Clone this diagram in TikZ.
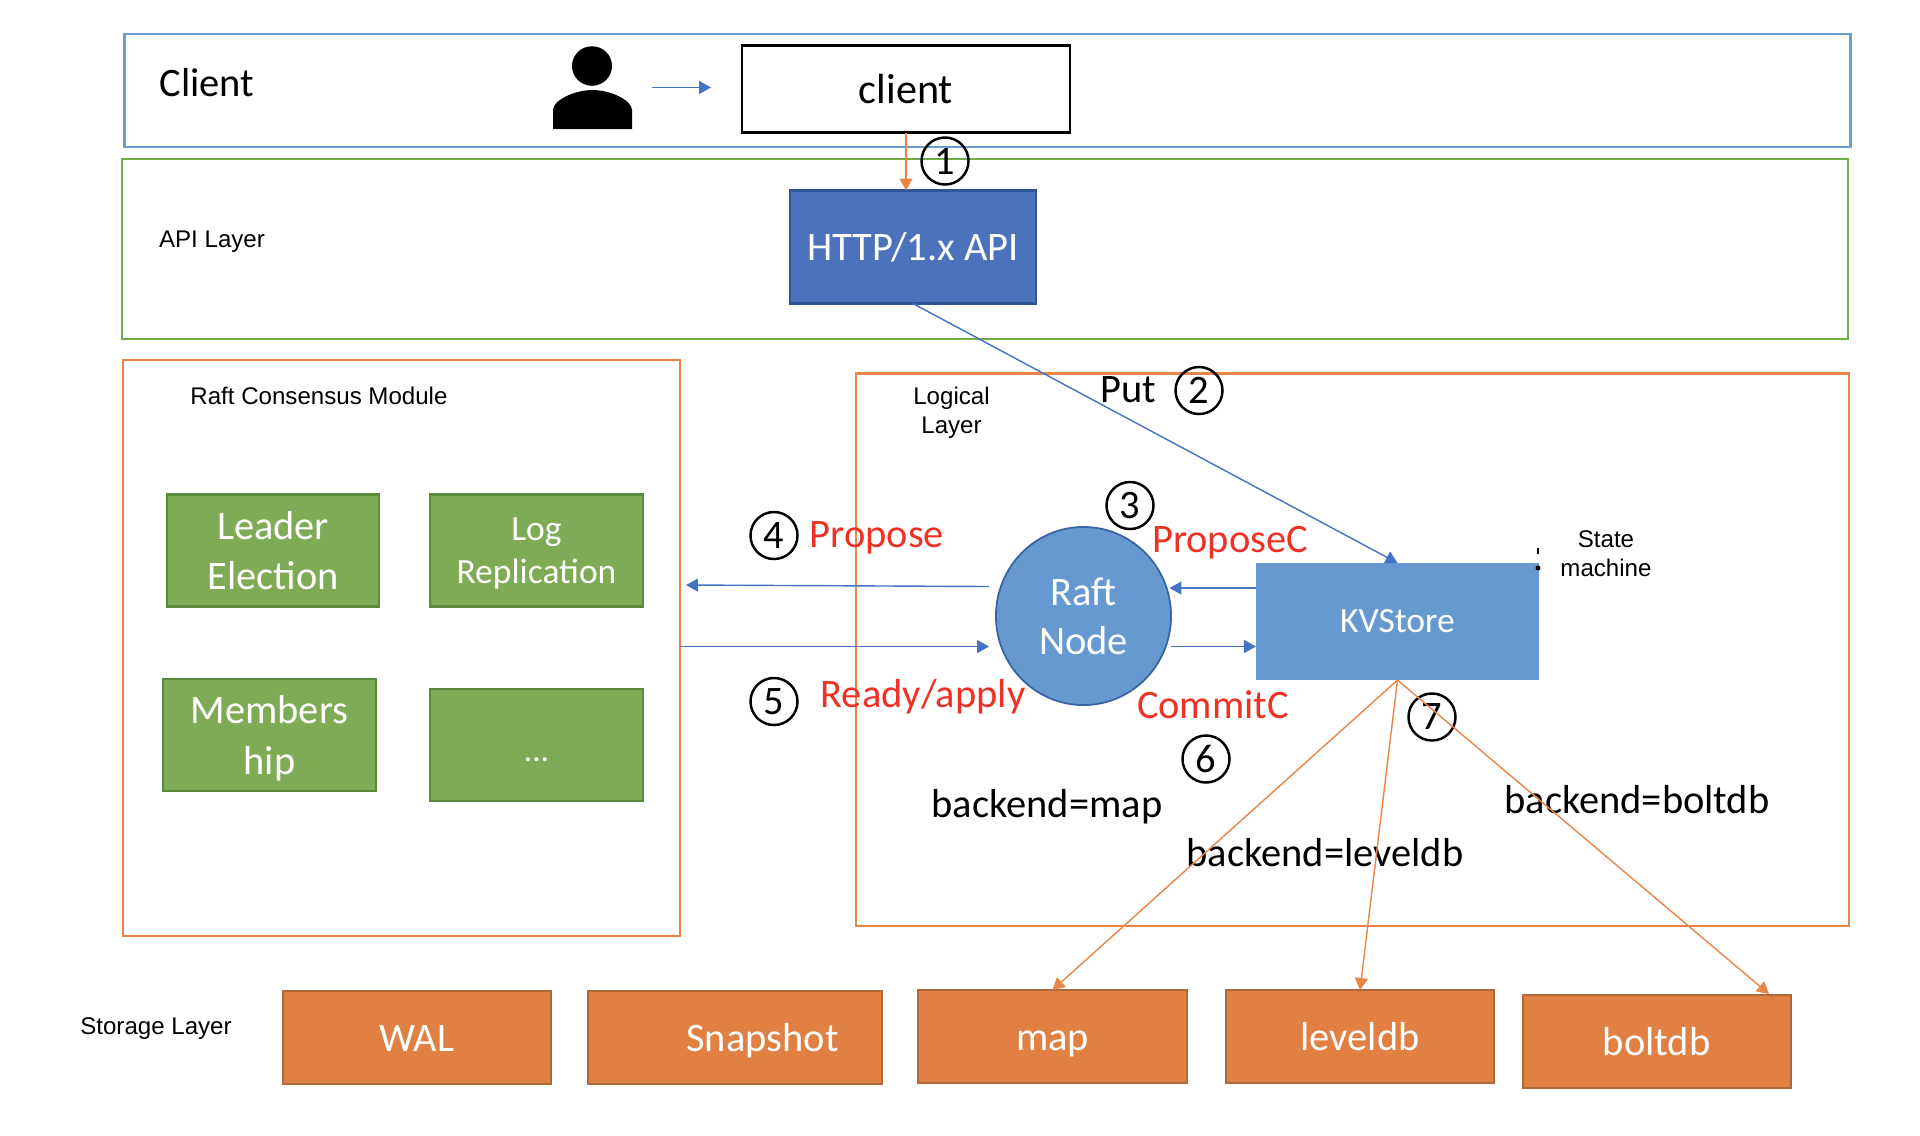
\documentclass[tikz,border=0pt]{standalone}
\usepackage{fontspec}
\setmainfont{Carlito}
\newfontfamily\labelfont{Liberation Sans}
\usetikzlibrary{arrows.meta, shapes.geometric}
\definecolor{layerblue}{HTML}{6C9BD2}
\definecolor{layergreen}{HTML}{70AD47}
\definecolor{layerorange}{HTML}{E98545}
\definecolor{greenfill}{HTML}{7EAB55}
\definecolor{greenline}{HTML}{5A8A3C}
\definecolor{orangefill}{HTML}{E08143}
\definecolor{orangeline}{HTML}{B0673A}
\definecolor{apifill}{HTML}{4C72BC}
\definecolor{apiline}{HTML}{2F5597}
\definecolor{storefill}{HTML}{6699D0}
\definecolor{arrowblue}{HTML}{4472C4}
\definecolor{redtext}{HTML}{EE3124}

\begin{document}
\begin{tikzpicture}[x=0.01cm,y=-0.01cm,
  bigtext/.style={font=\fontsize{11.5}{14.4}\selectfont},
  small/.style={font=\labelfont\fontsize{6.85}{8.3}\selectfont, align=center},
  redword/.style={bigtext, text=redtext},
  layer/.style={draw, line width=.6pt, inner sep=0pt, outer sep=0pt},
  module/.style={draw=greenline, fill=greenfill, line width=.6pt, text=white, bigtext, align=center, inner sep=0pt, outer sep=0pt, minimum width=2.12cm, minimum height=1.12cm},
  storage/.style={draw=orangeline, fill=orangefill, line width=.6pt, text=white, bigtext, inner sep=0pt, outer sep=0pt, minimum height=.93cm, text height=1em, text depth=.2em},
  step num/.style={circle, draw, line width=.7pt, inner sep=0pt, outer sep=0pt, minimum size=.47cm, bigtext},
  flow/.style={-{Triangle[length=3.4pt,width=3.7pt]}, arrowblue, line width=.4pt},
  backend/.style={-{Triangle[length=3.4pt,width=3.7pt]}, layerorange, line width=.4pt}]
  \useasboundingbox (0,0) rectangle (1920,1135);

  % layers
  \node[layer, draw=layerblue, minimum width=17.25cm, minimum height=1.13cm] (clientlayer) at (987.5,90.5) {};
  \node[layer, draw=layergreen, minimum width=17.25cm, minimum height=1.8cm] (apilayer) at (985,249) {};
  \node[layer, draw=layerorange, minimum width=5.57cm, minimum height=5.75cm] (raftlayer) at (401.5,648) {};
  \node[layer, draw=layerorange, minimum width=9.92cm, minimum height=5.52cm, anchor=north west] (logiclayer) at (856,373.5) {};

  % client
  \node[ellipse, fill=black, inner sep=0pt, minimum width=.4cm, minimum height=.395cm] (head) at (592,66) {};
  \fill (553,129) -- (553,110) .. controls (553,100) and (575,90) .. (592.5,90) .. controls (610,90) and (632,100) .. (632,110) -- (632,129) -- cycle;
  \node[draw=black, line width=.6pt, inner sep=0pt, outer sep=0pt, minimum width=3.27cm, minimum height=.87cm, font=\fontsize{12}{15}\selectfont] (client) at (906,89) {client};
  \coordinate (userout) at (652,87.5);
  \coordinate (userin) at (711,87.5);
  \draw[flow] (userout) -- (userin);
  \node[bigtext] (clientname) at (207,83) {Client};

  % api
  \node[draw=apiline, fill=apifill, line width=.6pt, text=white, inner sep=0pt, outer sep=0pt, minimum width=2.46cm, minimum height=1.13cm, bigtext] (api) at (913,247) {HTTP/1.x API};
  \draw[->, >={Triangle[length=3.4pt,width=3.7pt]}, layerorange, line width=.4pt] (client.south) -- (client.south |- api.north);
  \node[small] (apiname) at (212,241.5) {API Layer};
  \node[step num] (one) at (945,161) {1};

  % raft module
  \node[small] (raftname) at (319,396) {Raft Consensus Module};
  \node[module] (leader) at (273,550.5) {Leader\\Election};
  \node[module, font=\fontsize{10.1}{12.4}\selectfont] (logrep) at (536.5,550.5) {Log\\\smash{Replication}};
  \node[module] (member) at (269.5,735) {Members\\\smash{hip}};
  \node[module, font=\fontsize{9.5}{11}\selectfont] (more) at (536.5,745) {\rule{0pt}{1em}...};

  % logic layer
  \node[small] (logicname) at (951.5,412.5) {Logical\\Layer};
  \node[ellipse, fill=storefill, draw=apiline!80!storefill, line width=.5pt, text=white, inner sep=0pt, outer sep=0pt, minimum width=1.75cm, minimum height=1.78cm, align=center, font=\fontsize{11.5}{14}\selectfont] (raftnode) at (1083.5,616) {Raft\\Node};
  \node[fill=storefill, text=white, inner sep=0pt, outer sep=0pt, minimum width=2.83cm, minimum height=1.17cm, font=\fontsize{10.1}{12.4}\selectfont] (kvstore) at (1397.5,621.5) {KVStore};
  \node[small] (statename) at (1606,554) {State\\machine};
  \fill (1537,548) rectangle (1539,554);
  \fill (1538,568) circle (2.5);

  \node[bigtext] (put) at (1128,390) {Put};
  \node[step num] (two) at (1199,390.5) {2};
  \node[step num] (three) at (1130,505.5) {3};
  \node[step num] (four) at (774,535.5) {4};
  \node[step num] (five) at (774,701.5) {5};
  \node[step num] (six) at (1206,759) {6};
  \node[step num] (seven) at (1432,717) {7};
  \node[redword] (propose) at (877,538) {Propose};
  \node[redword] (proposec) at (1230,543) {ProposeC};
  \node[redword] (ready) at (923,697) {Ready/apply};
  \node[redword] (commitc) at (1213,705) {CommitC};
  \node[bigtext] (bmap) at (1047,807) {backend=map};
  \node[bigtext] (bleveldb) at (1325,853) {backend=leveldb};
  \node[bigtext] (bboltdb) at (1637,800) {backend=boltdb};

  % storage
  \node[small] (storagename) at (156,1028.5) {Storage Layer};
  \node[storage, minimum width=2.68cm] (wal) at (417,1037.5) {WAL};
  \node[storage, minimum width=2.94cm] (snapshot) at (735,1037.5) {\hspace{.55cm}Snapshot};
  \node[storage, minimum width=2.68cm] (map) at (1052.5,1036.5) {map};
  \node[storage, minimum width=2.68cm] (leveldb) at (1360,1036.5) {leveldb};
  \node[storage, minimum width=2.68cm] (boltdb) at (1656.7,1041.5) {boltdb};

  % flows
  \coordinate (raftout) at (989,586.5);
  \coordinate (raftin) at (686,585);
  \coordinate (commitout) at (1171,646.5);
  \coordinate (proposein) at (1169.5,588);
  \coordinate (readyin) at (989,646.5);
  \coordinate (boltin) at (1769,994);
  \draw[flow] (api.south) -- (kvstore.north);
  \draw[flow] (raftout) -- (raftin);
  \draw[flow] (raftlayer.east |- readyin) -- (readyin);
  \draw[flow] (kvstore.west |- proposein) -- (proposein);
  \draw[flow] (commitout) -- (kvstore.west |- commitout);
  \draw[backend] (kvstore.south) -- (map.north);
  \draw[backend] (kvstore.south) -- (leveldb.north);
  \draw[backend] (kvstore.south) -- (boltin);
\end{tikzpicture}
\end{document}
